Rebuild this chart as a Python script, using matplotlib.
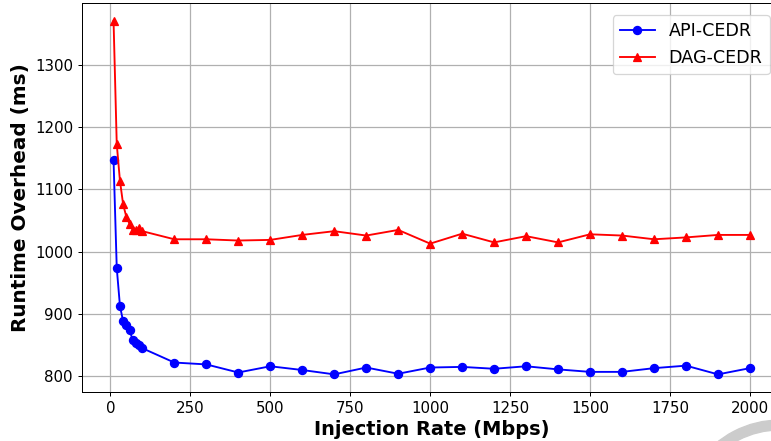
import numpy as np
import matplotlib
matplotlib.use("Agg")
import matplotlib.pyplot as plt
from matplotlib.patches import Wedge

# injection rates (Mbps)
rates = [10, 20, 30, 40, 50, 60, 70, 80, 90, 100,
         200, 300, 400, 500, 600, 700, 800, 900, 1000,
         1100, 1200, 1300, 1400, 1500, 1600, 1700, 1800, 1900, 2000]

# runtime overhead (ms)
api_cedr = [1147, 974, 913, 888, 882, 874, 858, 853, 850, 845,
            822, 819, 806, 816, 810, 803, 814, 804, 814,
            815, 812, 816, 811, 807, 807, 813, 817, 803, 813]
dag_cedr = [1371, 1173, 1114, 1076, 1056, 1045, 1035, 1035, 1038, 1033,
            1020, 1020, 1018, 1019, 1027, 1033, 1026, 1035, 1013,
            1029, 1015, 1025, 1015, 1028, 1026, 1020, 1023, 1027, 1027]

DPI = 90
fig = plt.figure(figsize=(771 / DPI, 441 / DPI), dpi=DPI)
ax = fig.add_axes([0.106, 0.111, 0.908, 0.882])

ax.plot(rates, api_cedr, color="blue", marker="o", markersize=6.5,
        linewidth=1.5, label="API-CEDR")
ax.plot(rates, dag_cedr, color="red", marker="^", markersize=6.5,
        linewidth=1.5, label="DAG-CEDR")

ax.set_xlabel("Injection Rate (Mbps)", fontsize=15.5, fontweight="bold", labelpad=3)
ax.set_ylabel("Runtime Overhead (ms)", fontsize=16, fontweight="bold")
ax.tick_params(labelsize=12)
ax.grid(True, color="#b0b0b0", linewidth=1.0)
ax.legend(loc="upper right", fontsize=14, borderaxespad=0.7)

# grey ring in the bottom right corner (screenshot artifact)
ring = Wedge((780, -79), 100, 90, 200, width=10, color="#cccccc",
             transform=None, clip_on=False)
fig.patches.append(ring)

fig.savefig("out.png", dpi=DPI)
